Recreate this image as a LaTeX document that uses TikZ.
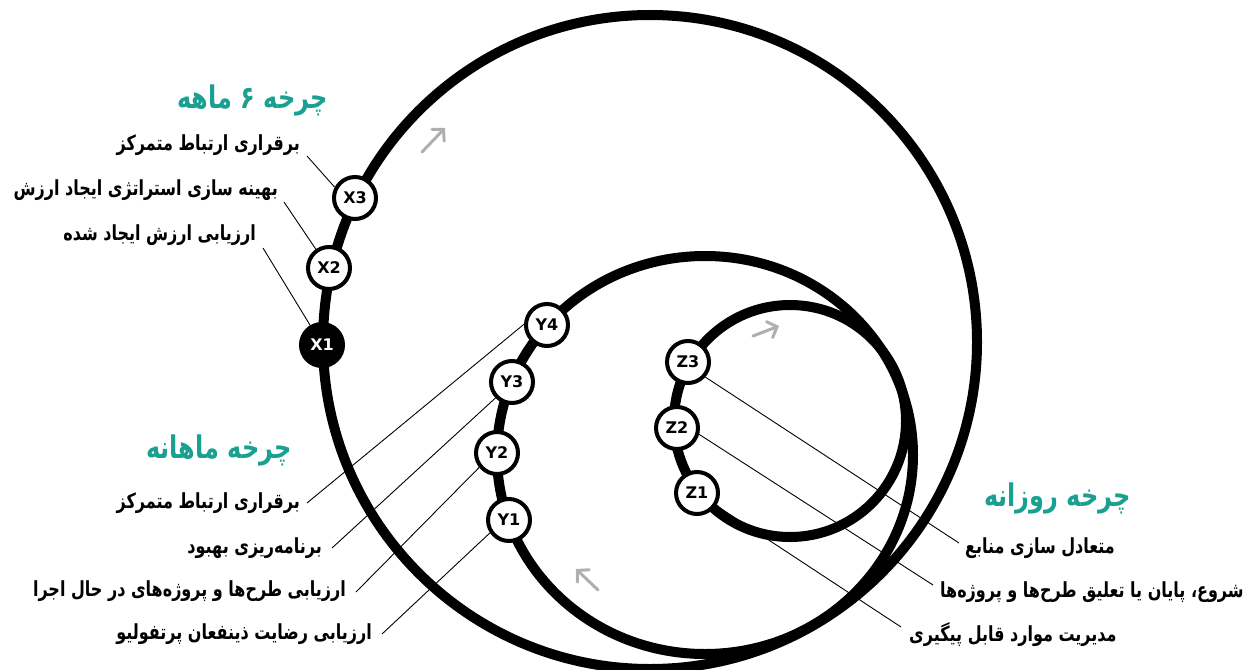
\documentclass[tikz,border=0pt]{standalone}
\usepackage{fontspec}
\usetikzlibrary{arrows.meta,calc}
\TeXXeTstate=1
\newfontfamily\fa[Script=Arabic]{DejaVu Sans}
\newfontfamily\lat{DejaVu Sans}
\definecolor{tealtitle}{RGB}{26,160,145}
\definecolor{arrowgray}{RGB}{175,175,175}
\newcommand\pers[1]{\scalebox{1}[1.3]{\beginR #1\endR}}
\tikzset{
  cyc/.style={line width=10pt},
  stage/.style={circle, draw, line width=4pt, fill=white, minimum size=42pt, inner sep=0pt,
    font=\lat\bfseries\fontsize{16}{16}\selectfont},
  stagefill/.style={stage, fill=black, text=white},
  lbl/.style={inner sep=0pt, font=\fa\bfseries\fontsize{16}{20}\selectfont},
  ttl/.style={inner sep=0pt, text=tealtitle, font=\fa\bfseries\fontsize{24}{30}\selectfont},
  lead/.style={line width=0.9pt},
  dir/.style={line width=3pt, draw=arrowgray, line cap=round,
    -{Straight Barb[length=8pt,width=17pt,line cap=round]}}
}
\begin{document}
\begin{tikzpicture}[x=1pt,y=-1pt]
\path[use as bounding box] (0,0) rectangle (1255,669);

% stage node positions
\path (322,345) coordinate (cX1) (329,268) coordinate (cX2) (355,198) coordinate (cX3)
      (509,520) coordinate (cY1) (497,453) coordinate (cY2) (512,382) coordinate (cY3) (547,325) coordinate (cY4)
      (697,493) coordinate (cZ1) (677,428) coordinate (cZ2) (688,362) coordinate (cZ3);

% labels
\node[ttl, anchor=east] (t6) at (328,100) {\pers{چرخه ۶ ماهه}};
\node[lbl, anchor=east] (a1) at (300,145) {\pers{برقراری ارتباط متمرکز}};
\node[lbl, anchor=east] (a2) at (278,190) {\pers{بهینه سازی استراتژی ایجاد ارزش}};
\node[lbl, anchor=east] (a3) at (256,235) {\pers{ارزیابی ارزش ایجاد شده}};

\node[ttl, anchor=east] (tm) at (292,450) {\pers{چرخه ماهانه}};
\node[lbl, anchor=east] (b1) at (300,503) {\pers{برقراری ارتباط متمرکز}};
\node[lbl, anchor=east] (b2) at (322,548) {\pers{برنامه^^^^200cریزی بهبود}};
\node[lbl, anchor=east] (b3) at (346,591) {\pers{ارزیابی طرح^^^^200cها و پروژه^^^^200cهای در حال اجرا}};
\node[lbl, anchor=east] (b4) at (372,634) {\pers{ارزیابی رضایت ذینفعان پرتفولیو}};

\node[ttl, anchor=west] (td) at (984,498) {\pers{چرخه روزانه}};
\node[lbl, anchor=west] (c1) at (965,548) {\pers{متعادل سازی منابع}};
\node[lbl, anchor=west] (c2) at (940,592) {\pers{شروع، پایان یا تعلیق طرح^^^^200cها و پروژه^^^^200cها}};
\node[lbl, anchor=west] (c3) at (909,635) {\pers{مدیریت موارد قابل پیگیری}};

% leader end coordinates
\coordinate (pa1) at (307,156);
\coordinate (pa2) at (284,202);
\coordinate (pa3) at (263,248);
\coordinate (pb1) at (307,503);
\coordinate (pb2) at (332,548);
\coordinate (pb3) at (356,592);
\coordinate (pb4) at (382,634);
\coordinate (pc1) at (959,543);
\coordinate (pc2) at (933,585);
\coordinate (pc3) at (901,627);

% cycles
\draw[cyc] (650,342) circle [radius=327];
\draw[cyc] (705,455) ellipse [x radius=208, y radius=199];
\draw[cyc] (790,421) circle [radius=116];

% direction arrows
\coordinate (g1a) at (422,152); \coordinate (g1b) at (445,128);
\coordinate (g2a) at (598,590); \coordinate (g2b) at (576,569);
\coordinate (g3a) at (753,336); \coordinate (g3b) at (779,326);
\draw[dir] (g1a) -- (g1b);
\draw[dir] (g2a) -- (g2b);
\draw[dir] (g3a) -- (g3b);

% nodes
\node[stagefill] (X1) at (cX1) {X1};
\node[stage] (X2) at (cX2) {X2};
\node[stage] (X3) at (cX3) {X3};
\node[stage] (Y1) at (cY1) {Y1};
\node[stage] (Y2) at (cY2) {Y2};
\node[stage] (Y3) at (cY3) {Y3};
\node[stage] (Y4) at (cY4) {Y4};
\node[stage] (Z1) at (cZ1) {Z1};
\node[stage] (Z2) at (cZ2) {Z2};
\node[stage] (Z3) at (cZ3) {Z3};

% leaders
\draw[lead] (pa1) -- (X3.152);
\draw[lead] (pa2) -- (X2.125);
\draw[lead] (pa3) -- (X1.121);
\draw[lead] (pb1) -- (Y4.178);
\draw[lead] (pb2) -- (Y3.224);
\draw[lead] (pb3) -- (Y2.219);
\draw[lead] (pb4) -- (Y1.214);
\draw[lead] (Z3.319) -- (pc1);
\draw[lead] (Z2.344) -- (pc2);
\draw[lead] (Z1.327) -- (pc3);
\end{tikzpicture}
\end{document}
